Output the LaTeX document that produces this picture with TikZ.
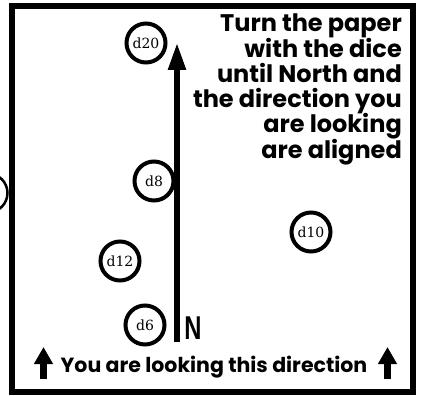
\documentclass[tikz,border=0pt]{standalone}
\usepackage{fontspec}
\usetikzlibrary{arrows.meta}
\newfontfamily\notefont{Poppins}
\newfontfamily\northfont{Liberation Sans}
\newfontfamily\diefont{DejaVu Serif}
\begin{document}
\begin{tikzpicture}[
  x=1pt, y=-1pt,
  die/.style={circle, draw, line width=4pt, minimum size=39pt, inner sep=0pt, font=\diefont\fontsize{14}{14}\selectfont},
  frame/.style={draw, line width=6pt},
  note/.style={inner sep=0pt, font=\notefont\bfseries\fontsize{24}{24}\selectfont},
  hint/.style={inner sep=0pt, font=\notefont\bfseries\fontsize{20.5}{20.5}\selectfont},
  bigarrow/.style={line width=5.5pt, -{Triangle[width=17pt, length=27pt]}},
  smallarrow/.style={line width=7pt, -{Triangle[width=18pt, length=17pt]}}
]
\useasboundingbox (0,0) rectangle (421,396);
\clip (0,0) rectangle (421,396);

% frame of the paper
\draw[frame] (12,6.5) rectangle (413,392);

% dice
\node[die] (d20) at (146,43) {d20};
\node[die] (d8) at (154,181) {d8};
\node[die] (d12) at (120,261) {d12};
\node[die] (d6) at (145,325) {d6};
\node[die] (d10) at (311,232) {d10};
\node[die, line width=2.5pt] (dout) at (-12,193) {};

% north arrow
\coordinate (south) at (177,342);
\coordinate (north) at (177,43);
\draw[bigarrow] (south) -- (north);
\node[inner sep=0pt, xscale=0.72, transform shape, font=\northfont\bfseries\fontsize{33}{33}\selectfont] (N) at (193,328) {N};

% instructions
\foreach \txt [count=\i] in {Turn the paper, with the dice, until North and, the direction you, are looking, are aligned}
  \node[note, anchor=base east] (note\i) at (402,{32+25.2*(\i-1)}) {\txt};

% looking direction
\node[hint, anchor=base] (look) at (214,372) {You are looking this direction};
\coordinate (leftfoot) at (43.5,379);
\coordinate (lefttip) at (43.5,347);
\coordinate (rightfoot) at (387.5,379);
\coordinate (righttip) at (387.5,347);
\draw[smallarrow] (leftfoot) -- (lefttip);
\draw[smallarrow] (rightfoot) -- (righttip);

\end{tikzpicture}
\end{document}
